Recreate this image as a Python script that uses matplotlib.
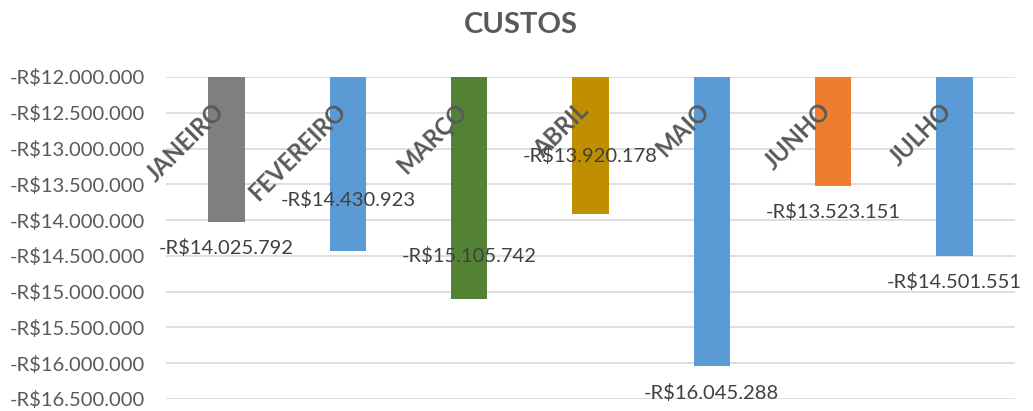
import matplotlib.pyplot as plt

plt.rcParams['font.family'] = ['Lato', 'DejaVu Sans']

meses = ['JANEIRO', 'FEVEREIRO', 'MARÇO', 'ABRIL', 'MAIO', 'JUNHO', 'JULHO']
custos = [-14025792, -14430923, -15105742, -13920178, -16045288, -13523151, -14501551]
cores = ['#7F7F7F', '#5B9BD5', '#548235', '#BF8F00', '#5B9BD5', '#ED7D31', '#5B9BD5']
# deslocamento vertical dos rotulos de valor (pontos, negativo = abaixo da barra)
rotulo_dy = [-19, 37, 31, 42, -19, -19, -19]

base = -12000000
ticks = list(range(-12000000, -16500001, -500000))


def moeda(v):
    s = f'{abs(v):,.0f}'.replace(',', '.')
    return f'-R${s}' if v < 0 else f'R${s}'


fig = plt.figure(figsize=(10.33, 4.11), dpi=100)
ax = fig.add_axes([0.1607, 0.0292, 0.8219, 0.7835])

x = range(len(meses))
ax.bar(x, [c - base for c in custos], bottom=base, width=0.3, color=cores, zorder=2)

for i, (m, c) in enumerate(zip(meses, custos)):
    ax.text(i - 0.05, -12420000, m, rotation=45, rotation_mode='anchor',
            ha='right', va='center', fontsize=17, fontweight='bold', color='#595959', zorder=3)
    ax.annotate(moeda(c), (i, c), xytext=(0, rotulo_dy[i]), textcoords='offset points',
                ha='center', va='center', fontsize=14.5, color='#404040', zorder=3)

ax.set_xlim(-0.5, len(meses) - 0.5)
ax.set_ylim(-16500000, -12000000)
ax.set_yticks(ticks)
ax.set_yticklabels([moeda(t) for t in ticks])
ax.set_xticks([])
ax.tick_params(axis='y', length=0, pad=15, labelsize=14.5, labelcolor='#595959')
ax.grid(axis='y', color='#D9D9D9', linewidth=1.2, zorder=0)
for s in ax.spines.values():
    s.set_visible(False)

fig.text(0.504, 0.94, 'CUSTOS', ha='center', va='center', fontsize=21,
         fontweight='bold', color='#595959')

fig.savefig('out.png', dpi=100)
